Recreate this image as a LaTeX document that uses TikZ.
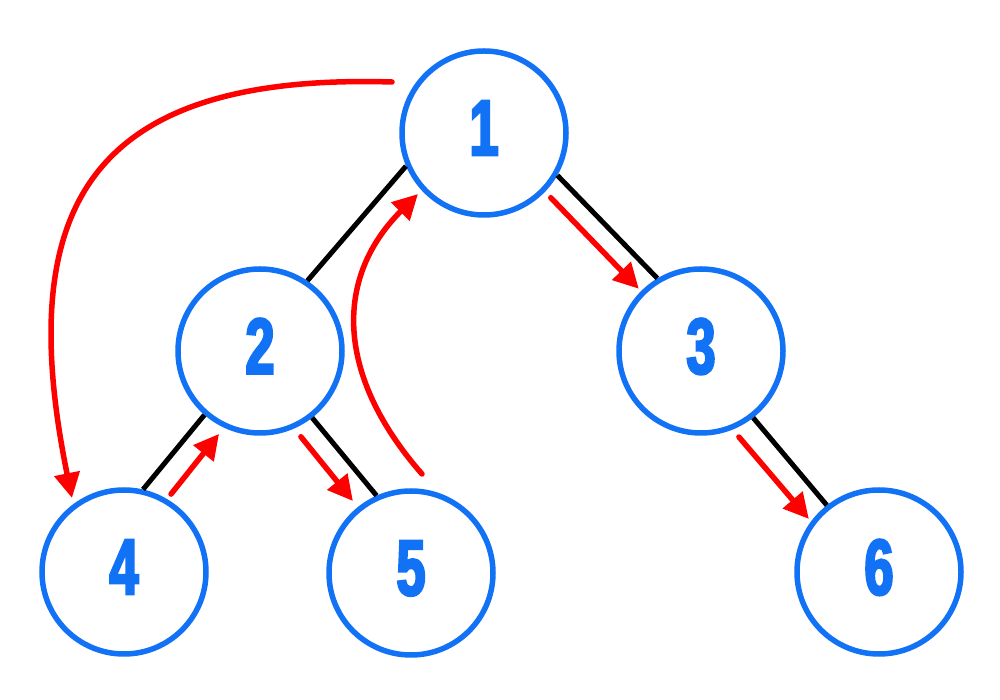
\documentclass[tikz,border=0pt]{standalone}
\usepackage{fontspec}
\newfontfamily\numfont[FakeStretch=0.66,FakeBold=3]{Liberation Sans Bold}
\usetikzlibrary{arrows.meta,calc}
\definecolor{nodeblue}{RGB}{18,114,245}
\definecolor{arrred}{RGB}{255,0,0}
\tikzset{
  treenode/.style={circle, draw=nodeblue, line width=0.11cm, minimum size=3.28cm, inner sep=0pt,
    text depth=0.2cm, text=nodeblue, font=\numfont\fontsize{45}{45}\selectfont},
  edge/.style={black, line width=0.1cm},
  walk/.style={arrred, line width=0.11cm, line cap=round,
    -{Triangle[length=0.5cm,width=0.5cm]}},
}
\begin{document}
\begin{tikzpicture}
\useasboundingbox (0,0) rectangle (20,14);
\node[treenode] (n1) at (9.68,11.34) {1};
\node[treenode] (n2) at (5.20,6.98) {2};
\node[treenode] (n3) at (14.02,6.98) {3};
\node[treenode] (n4) at (2.48,2.56) {4};
\node[treenode] (n5) at (8.22,2.54) {5};
\node[treenode] (n6) at (17.58,2.56) {6};
% tree edges
\draw[edge] (n1.203) -- (n2.56);
\draw[edge] (n1.-30) -- (n3.121);
\draw[edge] (n2.229) -- (n4.77);
\draw[edge] (n2.-52) -- (n5.114);
\draw[edge] (n3.-52) -- (n6.128);
% traversal arrows
\draw[walk] ($(n4.center)+(58.9:1.82)$) -- ($(n2.center)+(243.7:1.85)$);
\draw[walk] ($(n2.center)+(-64.5:1.90)$) -- ($(n5.center)+(128.9:1.85)$);
\draw[walk] ($(n1.center)+(-44.1:1.86)$) -- ($(n3.center)+(135:1.76)$);
\draw[walk] ($(n3.center)+(-66.2:1.88)$) -- ($(n6.center)+(142.9:1.76)$);
\draw[walk] ($(n1.center)+(-1.84,1.02)$) .. controls (1.84,12.54) and (0.24,9.92) .. ($(n4.center)+(-1.04,1.48)$);
\draw[walk] ($(n5.center)+(0.22,1.98)$) .. controls (6.79,6.40) and (6.61,8.37) .. ($(n1.center)+(-1.32,-1.22)$);
\end{tikzpicture}
\end{document}
